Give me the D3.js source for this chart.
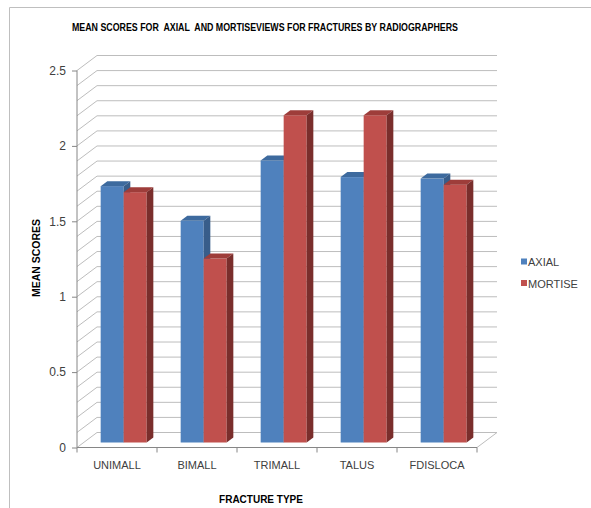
<!DOCTYPE html>
<html>
<head>
<meta charset="utf-8">
<script src="https://cdn.jsdelivr.net/npm/d3@7"></script>
<style>
  html, body { margin: 0; padding: 0; background: #fff; }
  svg { display: block; font-family: "Liberation Sans", Arial, sans-serif; }
</style>
</head>
<body>
<svg id="chart" width="591" height="508"></svg>
<script>
// Fracture types and mean scores per view
const categories = ["UNIMALL", "BIMALL", "TRIMALL", "TALUS", "FDISLOCA"];
const seriesNames = ["AXIAL", "MORTISE"];
const axialScores = [1.70, 1.47, 1.87, 1.76, 1.75];
const mortiseScores = [1.66, 1.22, 2.17, 2.17, 1.71];
const yTicks = [0, 0.5, 1, 1.5, 2, 2.5];

const seriesValues = [axialScores, mortiseScores];
const colors = {
  front: ["#4F81BD", "#C0504D"],
  top: ["#3D6A9E", "#9E3D3A"],
  side: ["#385D8A", "#7A2E2C"]
};

const svg = d3.select("#chart");

// Plot frame (front plane) and 3D depth offset
const plotLeft = 77, plotRight = 477, plotTop = 70.5, plotBottom = 447.5;
const depthX = 20, depthY = -15;

const x0 = d3.scaleBand().domain(categories).range([plotLeft, plotRight]).padding(0);
const groupWidth = 46;
const x1 = d3.scaleBand().domain(seriesNames).range([0, groupWidth]).padding(0);
const y = d3.scaleLinear().domain([0, 2.5]).range([plotBottom, plotTop]);

// Outer border of the chart area
svg.append("path")
  .attr("d", "M9.5,508 L9.5,7.5 L591,7.5")
  .attr("fill", "none").attr("stroke", "#BFBFBF").attr("stroke-width", 1);

// Gridlines on back and side walls (every 0.1)
const gridVals = d3.range(0, 26).map(i => i / 10);
const grid = svg.append("g").attr("stroke", "#BDBDBD").attr("stroke-width", 1).attr("fill", "none");
gridVals.forEach(v => {
  const yy = y(v);
  grid.append("path")
    .attr("d", `M${plotLeft},${yy} L${plotLeft + depthX},${yy + depthY} L${plotRight + depthX},${yy + depthY}`);
});
// Floor right edge
grid.append("line")
  .attr("x1", plotRight).attr("y1", plotBottom)
  .attr("x2", plotRight + depthX).attr("y2", plotBottom + depthY);

// Axes
const axisColor = "#868686";
svg.append("line")
  .attr("x1", plotLeft).attr("y1", plotTop).attr("x2", plotLeft).attr("y2", plotBottom)
  .attr("stroke", axisColor);
svg.append("line")
  .attr("x1", plotLeft).attr("y1", plotBottom).attr("x2", plotRight).attr("y2", plotBottom)
  .attr("stroke", axisColor);

const yAxis = d3.axisLeft(y).tickValues(yTicks).tickSize(5).tickPadding(6)
  .tickFormat(d3.format("~g"));
const gy = svg.append("g").attr("transform", `translate(${plotLeft},0)`).call(yAxis);
gy.select(".domain").remove();
gy.selectAll(".tick line").attr("stroke", axisColor);
gy.selectAll(".tick text").attr("font-size", 12).attr("fill", "#404040")
  .attr("font-family", "Liberation Sans, Arial, sans-serif");

// Category ticks on boundaries
const boundaries = categories.map(c => x0(c)).concat([plotRight]);
svg.append("g").selectAll("line").data(boundaries).join("line")
  .attr("x1", d => d).attr("x2", d => d)
  .attr("y1", plotBottom).attr("y2", plotBottom + 5)
  .attr("stroke", axisColor);

svg.append("g").selectAll("text").data(categories).join("text")
  .attr("x", d => x0(d) + x0.bandwidth() / 2)
  .attr("y", 469)
  .attr("text-anchor", "middle")
  .attr("font-size", 11)
  .attr("fill", "#404040")
  .text(d => d);

// 3D bars: front face sits at one third of the depth, bar depth one third
const zFront = 1 / 3, zDepth = 1 / 3;
const fdx = depthX * zFront, fdy = depthY * zFront;
const ddx = depthX * zDepth, ddy = depthY * zDepth;
const groupOffset = (x0.bandwidth() - groupWidth) / 2;

const bars = [];
categories.forEach((c, ci) => {
  seriesNames.forEach((s, si) => {
    bars.push({ cat: c, series: s, si, value: seriesValues[si][ci] });
  });
});

const barG = svg.append("g");
bars.forEach(b => {
  const xl = x0(b.cat) + groupOffset + x1(b.series) + fdx;
  const w = x1.bandwidth();
  const yt = y(b.value) + fdy;
  const yb = y(0) + fdy;
  const g = barG.append("g");
  // front face
  g.append("rect")
    .attr("x", xl).attr("y", yt).attr("width", w).attr("height", yb - yt)
    .attr("fill", colors.front[b.si]);
  // top face
  g.append("path")
    .attr("d", `M${xl},${yt} L${xl + w},${yt} L${xl + w + ddx},${yt + ddy} L${xl + ddx},${yt + ddy} Z`)
    .attr("fill", colors.top[b.si]);
  // side face
  g.append("path")
    .attr("d", `M${xl + w},${yt} L${xl + w + ddx},${yt + ddy} L${xl + w + ddx},${yb + ddy} L${xl + w},${yb} Z`)
    .attr("fill", colors.side[b.si]);
});

// Title (double spaces kept as written)
svg.append("text")
  .attr("x", 265).attr("y", 31)
  .attr("text-anchor", "middle")
  .attr("xml:space", "preserve")
  .style("white-space", "pre")
  .attr("font-size", 11).attr("font-weight", "bold").attr("fill", "#000")
  .attr("textLength", 386).attr("lengthAdjust", "spacingAndGlyphs")
  .text("MEAN SCORES FOR  AXIAL  AND MORTISEVIEWS FOR FRACTURES BY RADIOGRAPHERS");

// Axis titles
svg.append("text")
  .attr("transform", "translate(40,258) rotate(-90)")
  .attr("text-anchor", "middle")
  .attr("font-size", 10.5).attr("font-weight", "bold").attr("fill", "#000")
  .text("MEAN SCORES");

svg.append("text")
  .attr("x", 261).attr("y", 503)
  .attr("text-anchor", "middle")
  .attr("font-size", 10).attr("font-weight", "bold").attr("fill", "#000")
  .text("FRACTURE TYPE");

// Legend
const legend = svg.append("g").attr("transform", "translate(521,262)");
seriesNames.forEach((s, i) => {
  const row = legend.append("g").attr("transform", `translate(0,${i * 21.5})`);
  row.append("rect").attr("x", 0).attr("y", -3.5).attr("width", 6).attr("height", 6)
    .attr("fill", colors.front[i]);
  row.append("text").attr("x", 7).attr("y", 4)
    .attr("font-size", 11).attr("fill", "#404040")
    .text(s);
});
</script>
</body>
</html>
